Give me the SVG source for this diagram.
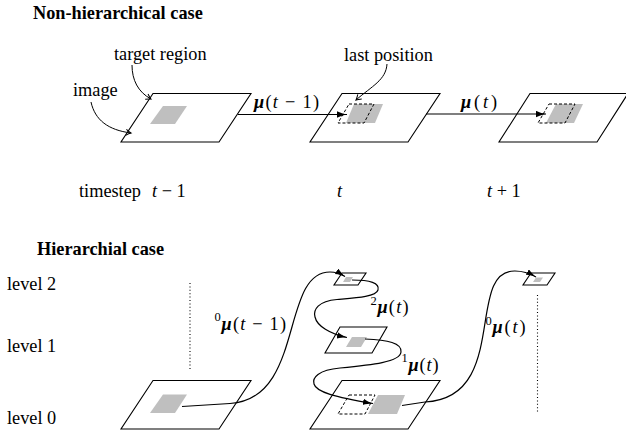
<svg xmlns="http://www.w3.org/2000/svg" width="626" height="435" viewBox="0 0 626 435">
<style>
  .par{fill:#fff;stroke:#000;stroke-width:1.1;stroke-linejoin:miter}
  .gray{fill:#bfbfbf;stroke:none}
  .dash{fill:none;stroke:#000;stroke-width:1;stroke-dasharray:3 2}
  .conn{fill:none;stroke:#000;stroke-width:1.2}
  .ann{fill:none;stroke:#000;stroke-width:1}
  .dot{fill:none;stroke:#000;stroke-width:1.1;stroke-dasharray:1 2.4}
  text{font-family:"Liberation Serif","Times New Roman",serif;font-size:18.3px;fill:#000}
  .ttl{font-weight:bold}
  .mu{font-weight:bold;font-style:italic}
  .it{font-style:italic}
  .sup{font-size:12.5px}
</style>
<defs>
  <marker id="ah" markerUnits="userSpaceOnUse" markerWidth="11" markerHeight="7" refX="10" refY="3.25" orient="auto">
    <path d="M0,0 C3,1.6 7,2.8 10,3.25 C7,3.7 3,4.9 0,6.5 Z" fill="#000"/>
  </marker>
  <marker id="to" markerUnits="userSpaceOnUse" markerWidth="8" markerHeight="8" refX="6" refY="4" orient="auto">
    <path d="M1,1 Q4,3.2 6,4 Q4,4.8 1,7" fill="none" stroke="#000" stroke-width="1"/>
  </marker>
</defs>

<!-- Titles and plain labels -->
<g id="labels">
  <text class="ttl" x="33" y="19">Non-hierarchical case</text>
  <text x="114" y="60">target region</text>
  <text x="73" y="96">image</text>
  <text x="344" y="61">last position</text>
  <text x="79" y="197">timestep</text>
  <text x="152" y="197"><tspan class="it">t</tspan> − 1</text>
  <text x="337" y="197" class="it">t</text>
  <text x="487" y="197"><tspan class="it">t</tspan> + 1</text>
  <text class="ttl" x="37" y="255">Hierarchial case</text>
  <text x="7" y="290">level 2</text>
  <text x="7" y="352">level 1</text>
  <text x="7" y="424">level 0</text>
</g>

<!-- Non-hierarchical nodes -->
<g id="frame-t-minus-1">
  <polygon class="par" points="153,93.5 251,93.5 219,142 121,142"/>
  <polygon class="gray" points="163,106 187,106 175,124 150,124"/>
</g>
<g id="frame-t">
  <polygon class="par" points="342,93.5 440,93.5 408,142 310,142"/>
  <polygon class="gray" points="354,104 383,104 375,123 346,123"/>
  <polygon class="dash" points="349,104 374,104 364,123 338,123"/>
</g>
<g id="frame-t-plus-1">
  <polygon class="par" points="530,93.5 628,93.5 597,142 499,142"/>
  <polygon class="gray" points="556,104 583,104 574,123 546,123"/>
  <polygon class="dash" points="549,104 575,104 565,123 538,123"/>
</g>

<!-- Hierarchical nodes -->
<g id="h-level0-t-minus-1">
  <polygon class="par" points="153,380.5 251,380.5 219,429 121,429"/>
  <polygon class="gray" points="163,394.5 187,394.5 175,413 150,413"/>
</g>
<g id="h-level2-t">
  <polygon class="par" points="342,273 366,273 358,285 334,285"/>
  <polygon class="gray" points="346,277 353,277 350,282 343,282"/>
</g>
<g id="h-level1-t">
  <polygon class="par" points="340,327 387,327 372,353 325,353"/>
  <polygon class="gray" points="352,337 367,337 361,347 346,347"/>
</g>
<g id="h-level0-t">
  <polygon class="par" points="342,380.5 440,380.5 408,429 310,429"/>
  <polygon class="dash" points="349,395 375,395 365,414 338,414"/>
  <polygon class="gray" points="378,395 405,395 397,414 368,414"/>
</g>
<g id="h-level2-t-plus-1">
  <polygon class="par" points="531,273 555,273 547,285 523,285"/>
  <polygon class="gray" points="536,277.5 543,277.5 540,282 533,282"/>
</g>

<!-- Guides -->
<g id="guides">
  <path class="dot" d="M190,283 V371"/>
  <path class="dot" d="M537.5,295 V413"/>
</g>

<!-- Connectors -->
<g id="connectors">
  <path class="ann" d="M91,102 C95,120 108,130 131,133" marker-end="url(#to)"/>
  <path class="ann" d="M132,65 C132,80 138,92 151,99" marker-end="url(#to)"/>
  <path class="ann" d="M387,64 C386,80 372,86 356,100" marker-end="url(#to)"/>
  <path class="conn" d="M238,114.5 L347,114.5" marker-end="url(#ah)"/>
  <path class="conn" d="M426,114 L546,114" marker-end="url(#ah)"/>
  <path class="conn" d="M182,406.5 L230,403.5 C305,399 280,272 330,272 C336,272 341,274 345,276.5" marker-end="url(#ah)"/>
  <path class="conn" d="M352,280 C370,280 380,283 378,290 C376,297 355,298 337,299.5 C318,301 313,310 315,317 C317,326 330,334 347,337.5" marker-end="url(#ah)"/>
  <path class="conn" d="M365,339 C388,340 402,343 401,352 C400,362 372,365 340,368 C318,370 312,378 314,384 C316,392 335,397 373,403.5" marker-end="url(#ah)"/>
  <path class="conn" d="M402,405.5 L425,402 C510,398 465,270 515,271 C522,271 529,273 536,277" marker-end="url(#ah)"/>
</g>

<!-- Connector labels -->
<g id="connector-labels">
  <text x="254" y="108" textLength="65" lengthAdjust="spacing"><tspan class="mu">μ</tspan>(<tspan class="it">t</tspan> − 1)</text>
  <text x="461" y="108" textLength="36" lengthAdjust="spacing"><tspan class="mu">μ</tspan>(<tspan class="it">t</tspan>)</text>
  <text class="sup" x="214.5" y="320.5">0</text>
  <text x="221.5" y="329.5" textLength="64.5" lengthAdjust="spacing"><tspan class="mu">μ</tspan>(<tspan class="it">t</tspan> − 1)</text>
  <text class="sup" x="370.5" y="305">2</text>
  <text x="377.5" y="313" textLength="31" lengthAdjust="spacing"><tspan class="mu">μ</tspan>(<tspan class="it">t</tspan>)</text>
  <text class="sup" x="401.5" y="362">1</text>
  <text x="408.5" y="371" textLength="30" lengthAdjust="spacing"><tspan class="mu">μ</tspan>(<tspan class="it">t</tspan>)</text>
  <text class="sup" x="485.5" y="324.5">0</text>
  <text x="492.5" y="333" textLength="33" lengthAdjust="spacing"><tspan class="mu">μ</tspan>(<tspan class="it">t</tspan>)</text>
</g>
</svg>
